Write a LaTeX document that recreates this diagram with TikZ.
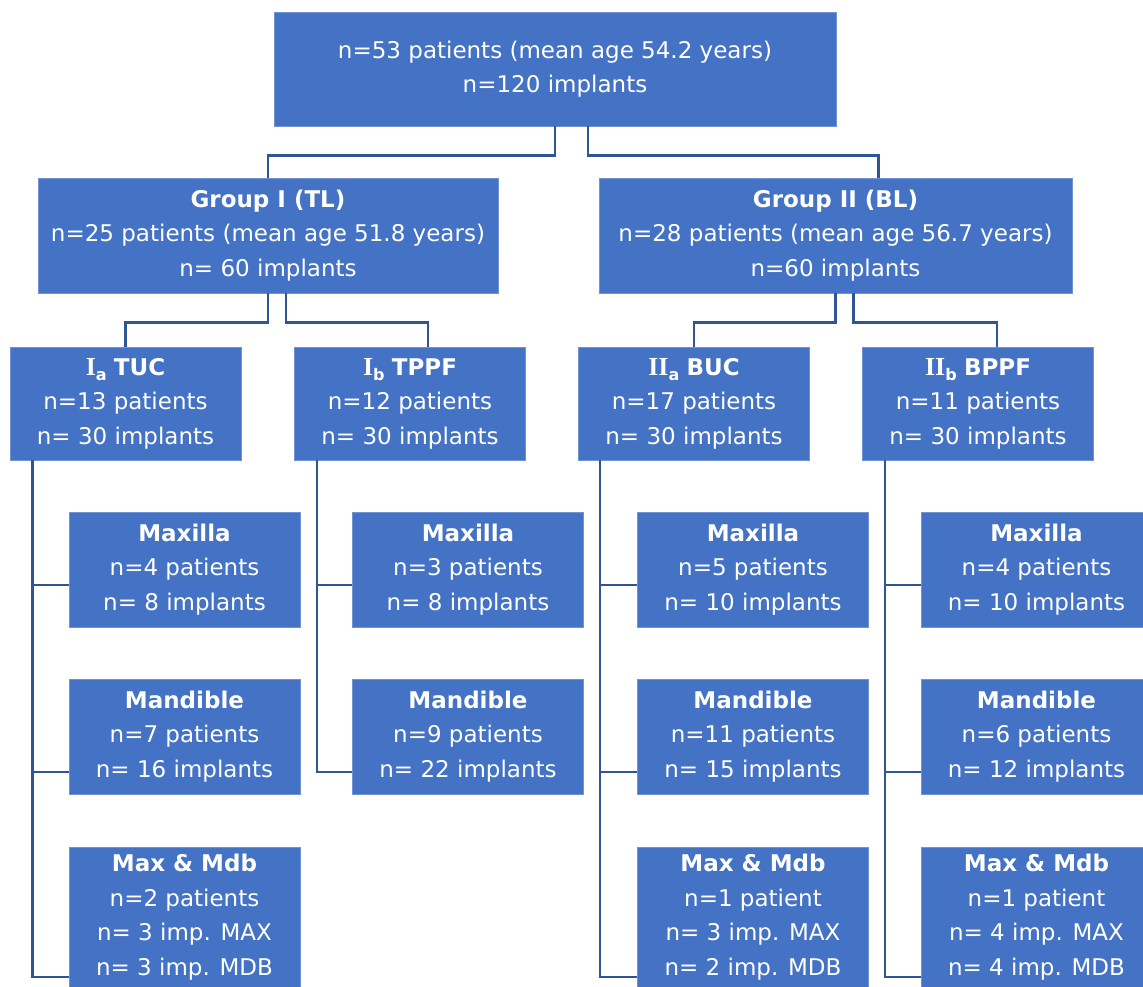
\documentclass[tikz,border=0pt]{standalone}
\usepackage{fontspec}
\newfontfamily\verd{DejaVu Sans}
\newfontfamily\serifb{Liberation Serif}
\usepackage{tikz}
\definecolor{boxblue}{HTML}{4472C4}
\definecolor{linkblue}{HTML}{2F5597}
\definecolor{edgeblue}{HTML}{6F93D3}
\newcommand{\sgrp}[2]{{\serifb\fontsize{26}{26}\selectfont\bfseries #1}\raisebox{-5pt}{\fontsize{16}{16}\selectfont\bfseries #2}}

\begin{document}
\begin{tikzpicture}[x=1pt,y=-1pt,
  box/.style={fill=boxblue,draw=edgeblue,line width=0.8pt,text=white,align=center,inner sep=0pt,
    minimum width=231pt,minimum height=115pt,font=\verd\fontsize{23}{34.5}\selectfont},
  link/.style={draw=linkblue,line width=2.4pt}]
\clip (0,0) rectangle (1143,987);
\node[box,minimum width=562pt,minimum height=114pt] (TOP) at (555,69) {n=53 patients (mean age 54.2 years)\\n=120 implants};
\node[box,minimum width=460pt] (GRPI) at (268,235.5) {\textbf{Group I (TL)}\\n=25 patients (mean age 51.8 years)\\n= 60 implants};
\node[box,minimum width=473pt] (GRPII) at (835.5,235.5) {\textbf{Group II (BL)}\\n=28 patients (mean age 56.7 years)\\n=60 implants};
\node[box,minimum height=113pt] (IA) at (125.5,403.5) {\sgrp{I}{a} \textbf{TUC}\\n=13 patients\\n= 30 implants};
\node[box,minimum height=113pt] (IB) at (410,403.5) {\sgrp{I}{b} \textbf{TPPF}\\n=12 patients\\n= 30 implants};
\node[box,minimum height=113pt] (IIA) at (694,403.5) {\sgrp{II}{a} \textbf{BUC}\\n=17 patients\\n= 30 implants};
\node[box,minimum height=113pt] (IIB) at (978,403.5) {\sgrp{II}{b} \textbf{BPPF}\\n=11 patients\\n= 30 implants};
\node[box] (MAXIA) at (184.5,569.5) {\textbf{Maxilla}\\n=4 patients\\n= 8 implants};
\node[box] (MANDIA) at (184.5,736.5) {\textbf{Mandible}\\n=7 patients\\n= 16 implants};
\node[box,minimum height=140pt] (BOTHIA) at (184.5,917) {\textbf{Max \& Mdb}\\n=2 patients\\n= 3 imp. MAX\\n= 3 imp. MDB};
\node[box] (MAXIB) at (468,569.5) {\textbf{Maxilla}\\n=3 patients\\n= 8 implants};
\node[box] (MANDIB) at (468,736.5) {\textbf{Mandible}\\n=9 patients\\n= 22 implants};
\node[box] (MAXIIA) at (753,569.5) {\textbf{Maxilla}\\n=5 patients\\n= 10 implants};
\node[box] (MANDIIA) at (753,736.5) {\textbf{Mandible}\\n=11 patients\\n= 15 implants};
\node[box,minimum height=140pt] (BOTHIIA) at (753,917) {\textbf{Max \& Mdb}\\n=1 patient\\n= 3 imp. MAX\\n= 2 imp. MDB};
\node[box] (MAXIIB) at (1036.5,569.5) {\textbf{Maxilla}\\n=4 patients\\n= 10 implants};
\node[box] (MANDIIB) at (1036.5,736.5) {\textbf{Mandible}\\n=6 patients\\n= 12 implants};
\node[box,minimum height=140pt] (BOTHIIB) at (1036.5,917) {\textbf{Max \& Mdb}\\n=1 patient\\n= 4 imp. MAX\\n= 4 imp. MDB};
\draw [link] (TOP.south) -- ++(0,29) -| (GRPI.north);
\draw [link] ([xshift=33pt]TOP.south) -- ++(0,29) -| ([xshift=43pt]GRPII.north);
\draw [link] (GRPI.south) -- ++(0,29) -| (IA.north);
\draw [link] ([xshift=18pt]GRPI.south) -- ++(0,29) -| ([xshift=18pt]IB.north);
\draw [link] (GRPII.south) -- ++(0,29) -| (IIA.north);
\draw [link] ([xshift=18pt]GRPII.south) -- ++(0,29) -| ([xshift=19pt]IIB.north);
\draw [link] ([xshift=23pt]IA.south west) |- ([yshift=-15.5pt]MAXIA.west);
\draw [link] ([xshift=23pt]IA.south west) |- ([yshift=-35.5pt]MANDIA.west);
\draw [link] ([xshift=23pt]IA.south west) |- ([yshift=-60pt]BOTHIA.west);
\draw [link] ([xshift=23pt]IB.south west) |- ([yshift=-15.5pt]MAXIB.west);
\draw [link] ([xshift=23pt]IB.south west) |- ([yshift=-35.5pt]MANDIB.west);
\draw [link] ([xshift=22pt]IIA.south west) |- ([yshift=-15.5pt]MAXIIA.west);
\draw [link] ([xshift=22pt]IIA.south west) |- ([yshift=-35.5pt]MANDIIA.west);
\draw [link] ([xshift=22pt]IIA.south west) |- ([yshift=-60pt]BOTHIIA.west);
\draw [link] ([xshift=23pt]IIB.south west) |- ([yshift=-15.5pt]MAXIIB.west);
\draw [link] ([xshift=23pt]IIB.south west) |- ([yshift=-35.5pt]MANDIIB.west);
\draw [link] ([xshift=23pt]IIB.south west) |- ([yshift=-60pt]BOTHIIB.west);
\end{tikzpicture}
\end{document}
